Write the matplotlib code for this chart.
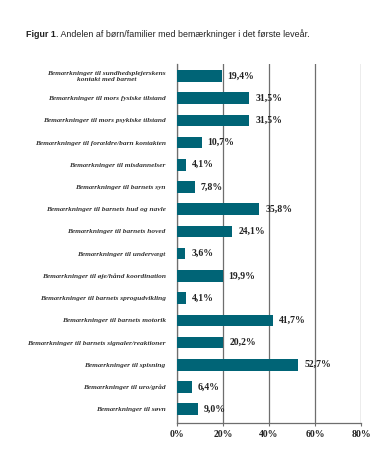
import numpy as np
import matplotlib
matplotlib.use('Agg')
import matplotlib.pyplot as plt
from matplotlib.ticker import FuncFormatter

# Data
labels = ['Bemærkninger til sundhedsplejerskens\nkontakt med barnet',
          'Bemærkninger til mors fysiske tilstand',
          'Bemærkninger til mors psykiske tilstand',
          'Bemærkninger til forældre/barn kontakten',
          'Bemærkninger til misdannelser',
          'Bemærkninger til barnets syn',
          'Bemærkninger til barnets hud og navle',
          'Bemærkninger til barnets hoved',
          'Bemærkninger til undervægt',
          'Bemærkninger til øje/hånd koordination',
          'Bemærkninger til barnets sprogudvikling',
          'Bemærkninger til barnets motorik',
          'Bemærkninger til barnets signaler/reaktioner',
          'Bemærkninger til spisning',
          'Bemærkninger til uro/gråd',
          'Bemærkninger til søvn']
values = [19.4, 31.5, 31.5, 10.7, 4.1, 7.8, 35.8, 24.1, 3.6, 19.9, 4.1,
          41.7, 20.2, 52.7, 6.4, 9.0]
xticks = [0, 20, 40, 60, 80]

bar_color = '#006476'
grid_color = '#6e6e6e'
serif = ['Liberation Serif', 'DejaVu Serif']
sans = ['Liberation Sans', 'DejaVu Sans']

fig = plt.figure(figsize=(3.78, 4.58), dpi=100)
ax = fig.add_axes([0.468, 0.0764, 0.487, 0.7836])

y = np.arange(len(values))
ax.barh(y, values, height=0.52, color=bar_color, zorder=3)

# value labels
for yi, v in zip(y, values):
    ax.text(v + 2.6, yi, '{:.1f}%'.format(v).replace('.', ','),
            va='center', ha='left', fontsize=7, fontweight='bold',
            family=serif, color='#222222', zorder=4)

ax.set_xlim(0, 80)
ax.set_ylim(len(values) - 0.38, -0.53)
ax.set_xticks(xticks)
ax.xaxis.set_major_formatter(FuncFormatter(lambda v, p: '{:d}%'.format(int(v))))
for t in ax.get_xticklabels():
    t.set_fontfamily(serif)
    t.set_fontweight('bold')
    t.set_fontsize(7)
    t.set_color('#222222')
ax.tick_params(axis='x', length=2, width=0.8, color=grid_color, pad=3)
ax.set_yticks(y)
ax.set_yticklabels(labels, fontsize=5.3, fontstyle='italic',
                   fontweight='bold', family=serif, color='#333333')
ax.tick_params(axis='y', length=0, pad=8)
for t in ax.get_yticklabels():
    t.set_multialignment('center')

ax.grid(axis='x', color=grid_color, linewidth=0.9, zorder=0)
for s in ['top', 'right']:
    ax.spines[s].set_visible(False)
ax.spines['left'].set_color(grid_color)
ax.spines['bottom'].set_color(grid_color)
ax.spines['left'].set_linewidth(0.9)
ax.spines['bottom'].set_linewidth(0.9)

# Title: bold "Figur 1" followed by normal text
t1 = fig.text(0.069, 0.919, 'Figur 1', fontsize=6.4, va='baseline', ha='left',
              fontweight='bold', family=sans, color='#222222')
ax.annotate('. Andelen af børn/familier med bemærkninger i det første leveår.',
            xy=(1, 0), xycoords=t1, va='bottom', ha='left', fontsize=6.4,
            family=sans, color='#222222')
fig.savefig('out.png', dpi=100)
